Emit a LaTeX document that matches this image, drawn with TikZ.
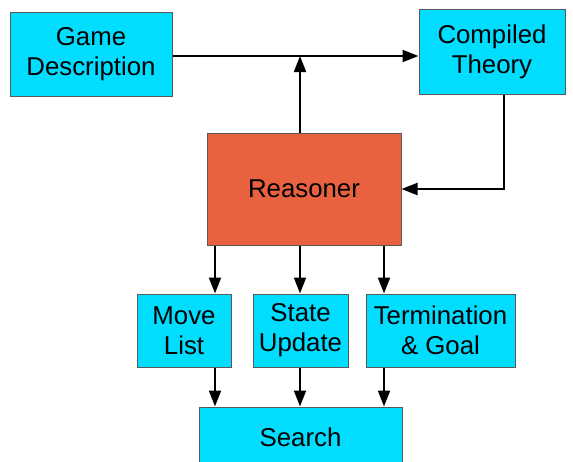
\documentclass[tikz,border=0pt]{standalone}
\usepackage{fontspec}
\setmainfont{Liberation Sans}
\usetikzlibrary{positioning,arrows.meta}

\definecolor{boxcyan}{HTML}{00DDFF}
\definecolor{reasonred}{HTML}{E8623F}

\tikzset{
  block/.style={draw=black!65, line width=0.5pt, fill=boxcyan, align=center,
                inner sep=0pt, font=\fontsize{12.9}{15}\selectfont},
  link/.style={line width=1pt, -{Triangle[length=8pt,width=6pt]}}
}

\begin{document}
\begin{tikzpicture}[x=0.5pt,y=-0.5pt]
\useasboundingbox (0,0) rectangle (573,461);

% Nodes
  \node[block, minimum width=81pt, minimum height=42pt]   (game)     at (91,54)    {Game\\Description};
  \node[block, minimum width=73pt, minimum height=42.5pt] (compiled) at (492,51.5) {Compiled\\Theory};
  \node[block, fill=reasonred, minimum width=97pt, minimum height=56pt] (reasoner) at (304,189) {Reasoner};
  \node[block, minimum width=47pt, minimum height=36.5pt]   (move)     at (184,330.5) {Move\\List};
  \node[block, minimum width=47.5pt, minimum height=36.5pt] (state)    at (300.5,330.5) {State\\Update};
  \node[block, minimum width=74.5pt, minimum height=36.5pt] (goal)     at (440.5,330.5) {Termination\\\& Goal};
  \node[block, minimum width=101.5pt, minimum height=30pt]  (search)   at (300.5,437) {Search};

% Columns of the arrows
  \coordinate (split) at (300,56);
  \coordinate (colA)  at (215,0);
  \coordinate (colB)  at (300,0);
  \coordinate (colC)  at (384,0);

% Edges
  \draw[link] (game.east |- split) -- (compiled.west |- split);
  \draw[link] (reasoner.north -| split) -- (split);
  \draw[link] ([xshift=6pt]compiled.south) |- (reasoner.east);

  \draw[link] (reasoner.south -| colA) -- (move.north -| colA);
  \draw[link] (reasoner.south -| colB) -- (state.north -| colB);
  \draw[link] (reasoner.south -| colC) -- (goal.north -| colC);

  \draw[link] (move.south -| colA)  -- (search.north -| colA);
  \draw[link] (state.south -| colB) -- (search.north -| colB);
  \draw[link] (goal.south -| colC)  -- (search.north -| colC);

\end{tikzpicture}
\end{document}
